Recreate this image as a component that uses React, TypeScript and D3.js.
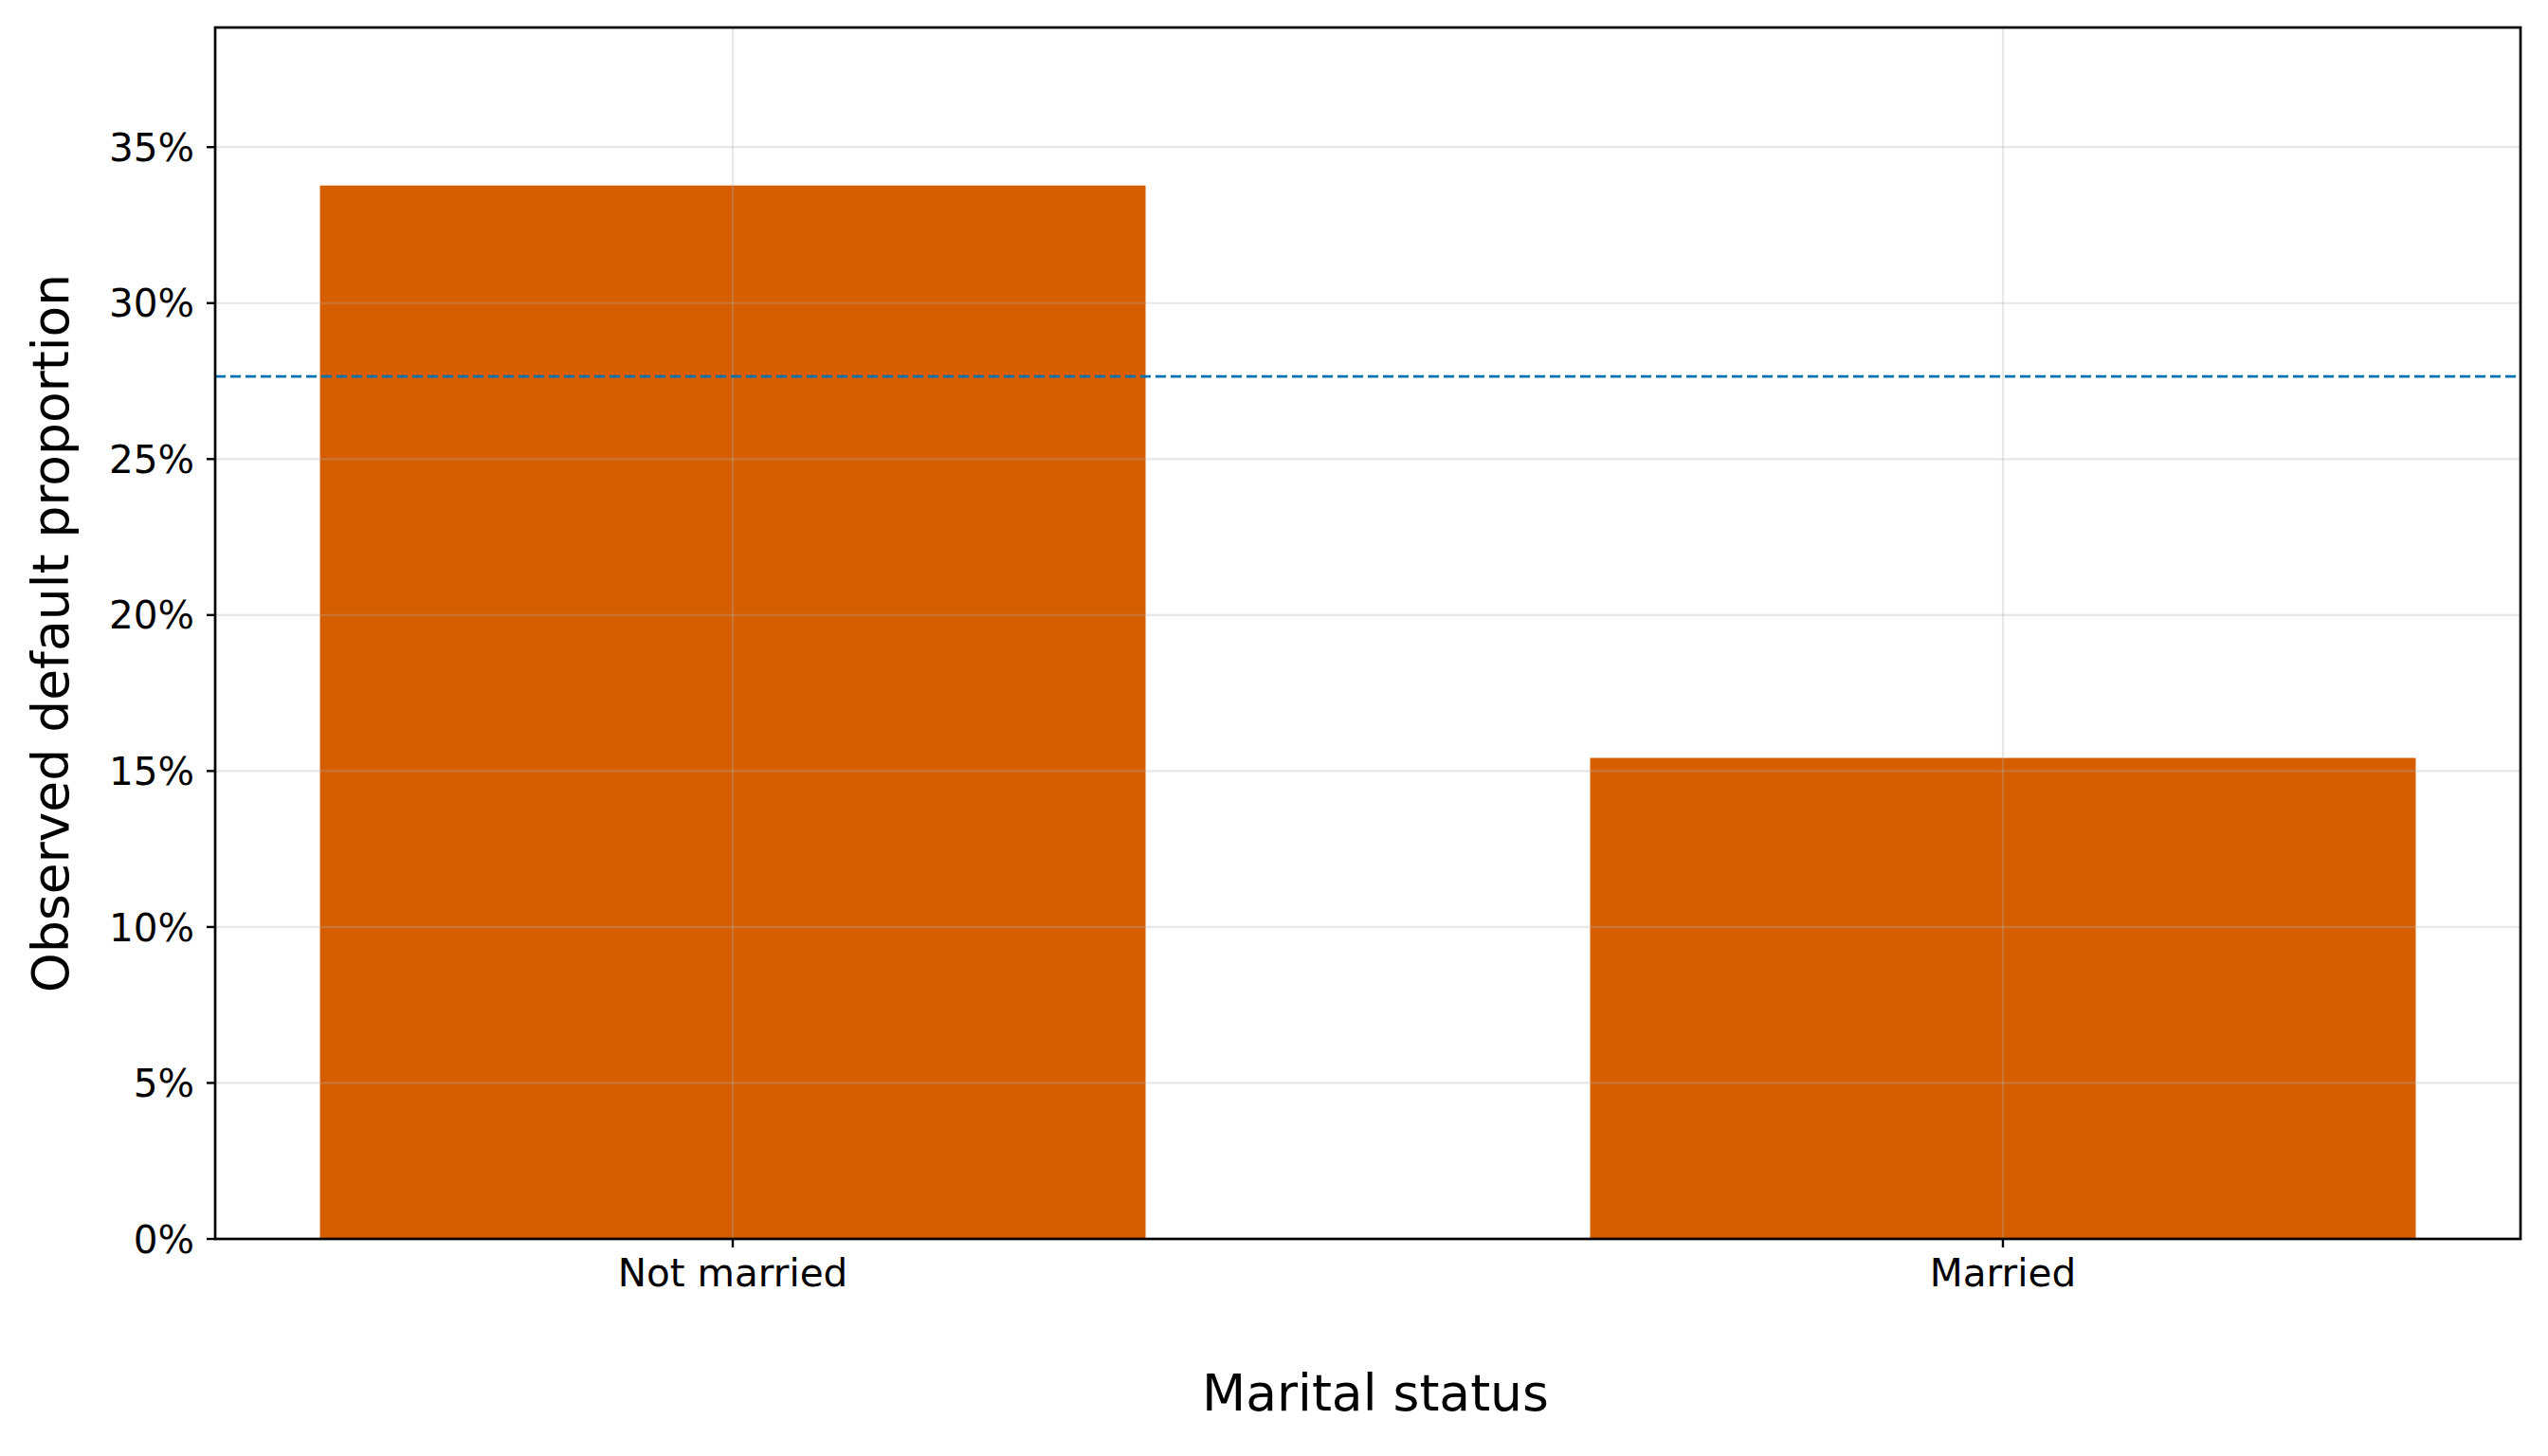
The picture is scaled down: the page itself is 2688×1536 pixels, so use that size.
// @ts-nocheck
import React, { useRef, useEffect } from 'react';
import * as d3 from 'd3';

const categories = ['Not married', 'Married'];
const defaultRates = [0.3377, 0.1542];
const overallRate = 0.2765;
const yTicks = [0, 0.05, 0.1, 0.15, 0.2, 0.25, 0.3, 0.35];

const xLabel = 'Marital status';
const yLabel = 'Observed default proportion';

const WIDTH = 2688;
const HEIGHT = 1536;
const margin = { top: 29, right: 29, bottom: 229, left: 227 };
const FONT = '"DejaVu Sans", sans-serif';

const App: React.FC = () => {
  const svgRef = useRef(null);

  useEffect(() => {
    document.body.style.margin = '0';
    const svg = d3.select(svgRef.current);
    svg.selectAll('*').remove();

    const innerW = WIDTH - margin.left - margin.right;
    const innerH = HEIGHT - margin.top - margin.bottom;
    const barWidth = 0.65;

    // matplotlib-like limits: bar extent plus 5% margin, y up to max * 1.15
    const x = d3.scaleLinear()
      .domain([-barWidth / 2 - 0.0825, categories.length - 1 + barWidth / 2 + 0.0825])
      .range([0, innerW]);
    const y = d3.scaleLinear()
      .domain([0, d3.max(defaultRates) * 1.15])
      .range([innerH, 0]);

    const g = svg.append('g').attr('transform', `translate(${margin.left},${margin.top})`);

    // bars
    g.selectAll('.bar')
      .data(defaultRates)
      .enter().append('rect')
      .attr('class', 'bar')
      .attr('x', (d, i) => x(i - barWidth / 2))
      .attr('width', (d, i) => x(i + barWidth / 2) - x(i - barWidth / 2))
      .attr('y', d => y(d))
      .attr('height', d => y(0) - y(d))
      .attr('fill', '#D55E00');

    // grid on top of bars
    g.selectAll('.hgrid')
      .data(yTicks)
      .enter().append('line')
      .attr('x1', 0).attr('x2', innerW)
      .attr('y1', d => y(d)).attr('y2', d => y(d))
      .attr('stroke', '#b0b0b0').attr('stroke-opacity', 0.3).attr('stroke-width', 2.2);
    g.selectAll('.vgrid')
      .data(categories)
      .enter().append('line')
      .attr('x1', (d, i) => x(i)).attr('x2', (d, i) => x(i))
      .attr('y1', 0).attr('y2', innerH)
      .attr('stroke', '#b0b0b0').attr('stroke-opacity', 0.3).attr('stroke-width', 2.2);

    // overall rate reference line
    g.append('line')
      .attr('x1', 0).attr('x2', innerW)
      .attr('y1', y(overallRate)).attr('y2', y(overallRate))
      .attr('stroke', '#0072B2')
      .attr('stroke-width', 2.7)
      .attr('stroke-dasharray', '11,5');

    // frame
    g.append('rect')
      .attr('width', innerW).attr('height', innerH)
      .attr('fill', 'none').attr('stroke', '#000').attr('stroke-width', 2.7);

    // y ticks
    const yt = g.selectAll('.ytick').data(yTicks).enter().append('g')
      .attr('transform', d => `translate(0,${y(d)})`);
    yt.append('line').attr('x1', -9).attr('x2', 0).attr('stroke', '#000').attr('stroke-width', 2.4);
    yt.append('text')
      .attr('x', -22)
      .attr('dy', '0.36em')
      .attr('text-anchor', 'end')
      .attr('font-family', FONT)
      .attr('font-size', 40.5)
      .attr('fill', '#000')
      .text(d => d3.format('.0%')(d));

    // x ticks
    const xt = g.selectAll('.xtick').data(categories).enter().append('g')
      .attr('transform', (d, i) => `translate(${x(i)},${innerH})`);
    xt.append('line').attr('y1', 0).attr('y2', 9).attr('stroke', '#000').attr('stroke-width', 2.4);
    xt.append('text')
      .attr('y', 50)
      .attr('text-anchor', 'middle')
      .attr('font-family', FONT)
      .attr('font-size', 40.5)
      .attr('fill', '#000')
      .text(d => d);

    // axis labels
    svg.append('text')
      .attr('x', margin.left + innerW / 2 + 8)
      .attr('y', 1488)
      .attr('text-anchor', 'middle')
      .attr('font-family', FONT)
      .attr('font-size', 53.5)
      .attr('fill', '#000')
      .text(xLabel);

    svg.append('text')
      .attr('transform', `translate(72,${margin.top + innerH / 2}) rotate(-90)`)
      .attr('text-anchor', 'middle')
      .attr('font-family', FONT)
      .attr('font-size', 53.5)
      .attr('fill', '#000')
      .text(yLabel);
  }, []);

  return <svg ref={svgRef} width={WIDTH} height={HEIGHT} style={{ display: 'block', background: '#fff' }}></svg>;
};

export default App;
